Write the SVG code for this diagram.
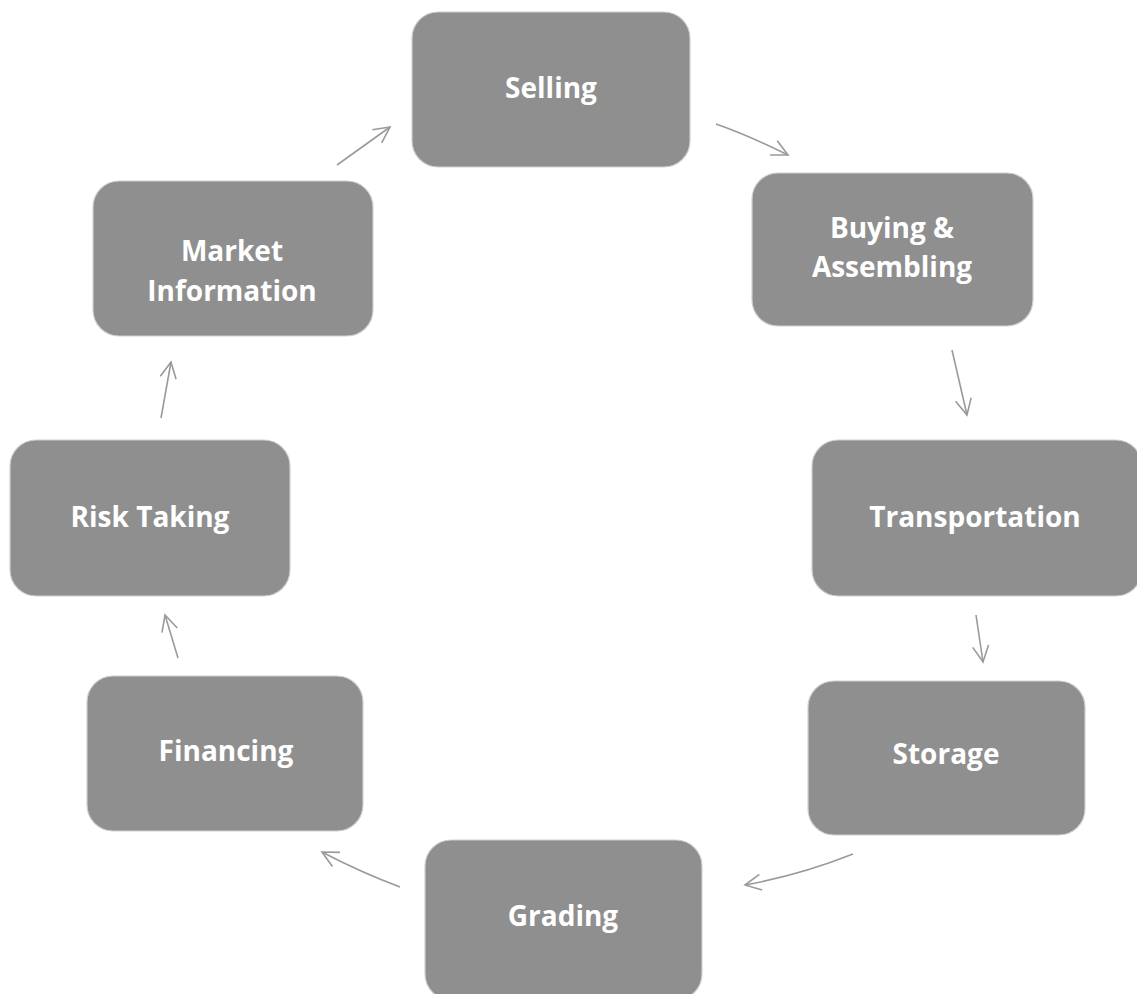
<svg xmlns="http://www.w3.org/2000/svg" width="1137" height="994" viewBox="0 0 1137 994">
<defs>
<marker id="ah" viewBox="0 0 20 20" refX="18" refY="10" markerWidth="20" markerHeight="20" markerUnits="userSpaceOnUse" orient="auto">
<path d="M2,2 L18,10 L2,18" fill="none" stroke="#9a9a9a" stroke-width="1.6"/>
</marker>
<style>
.box{fill:#8f8f8f;stroke:#d0d0d0;stroke-width:1.2}
.lbl{font-family:"Open Sans","Liberation Sans",sans-serif;font-weight:bold;font-size:28px;fill:#ffffff;text-anchor:middle}
.arr{fill:none;stroke:#9a9a9a;stroke-width:1.6;marker-end:url(#ah)}
</style>
</defs>
<rect width="1137" height="994" fill="#ffffff"/>
<g id="connectors">
<path class="arr" d="M337,165 L390,127"/>
<path class="arr" d="M716,124 Q750,136 788,155"/>
<path class="arr" d="M952,350 L967,415"/>
<path class="arr" d="M976,615 L983,662"/>
<path class="arr" d="M853,854 Q800,875 745,885"/>
<path class="arr" d="M400,887 Q360,872 322,852"/>
<path class="arr" d="M178,658 L165,615"/>
<path class="arr" d="M161,418 L171,362"/>
</g>
<g id="selling"><rect class="box" x="412" y="12" width="278" height="155" rx="26"/><text class="lbl" x="551" y="98">Selling</text></g>
<g id="buying"><rect class="box" x="752" y="173" width="281" height="153" rx="26"/><text class="lbl" x="892" y="238">Buying &amp;</text><text class="lbl" x="892" y="277">Assembling</text></g>
<g id="transportation"><rect class="box" x="812" y="440" width="330" height="156" rx="26"/><text class="lbl" x="975" y="527">Transportation</text></g>
<g id="storage"><rect class="box" x="808" y="681" width="277" height="154" rx="26"/><text class="lbl" x="946" y="764">Storage</text></g>
<g id="grading"><rect class="box" x="425" y="840" width="277" height="160" rx="26"/><text class="lbl" x="563" y="926">Grading</text></g>
<g id="financing"><rect class="box" x="87" y="676" width="276" height="155" rx="26"/><text class="lbl" x="226" y="761">Financing</text></g>
<g id="risk"><rect class="box" x="10" y="440" width="280" height="156" rx="26"/><text class="lbl" x="150" y="527">Risk Taking</text></g>
<g id="market"><rect class="box" x="93" y="181" width="280" height="155" rx="26"/><text class="lbl" x="232" y="261">Market</text><text class="lbl" x="232" y="301">Information</text></g>
</svg>
